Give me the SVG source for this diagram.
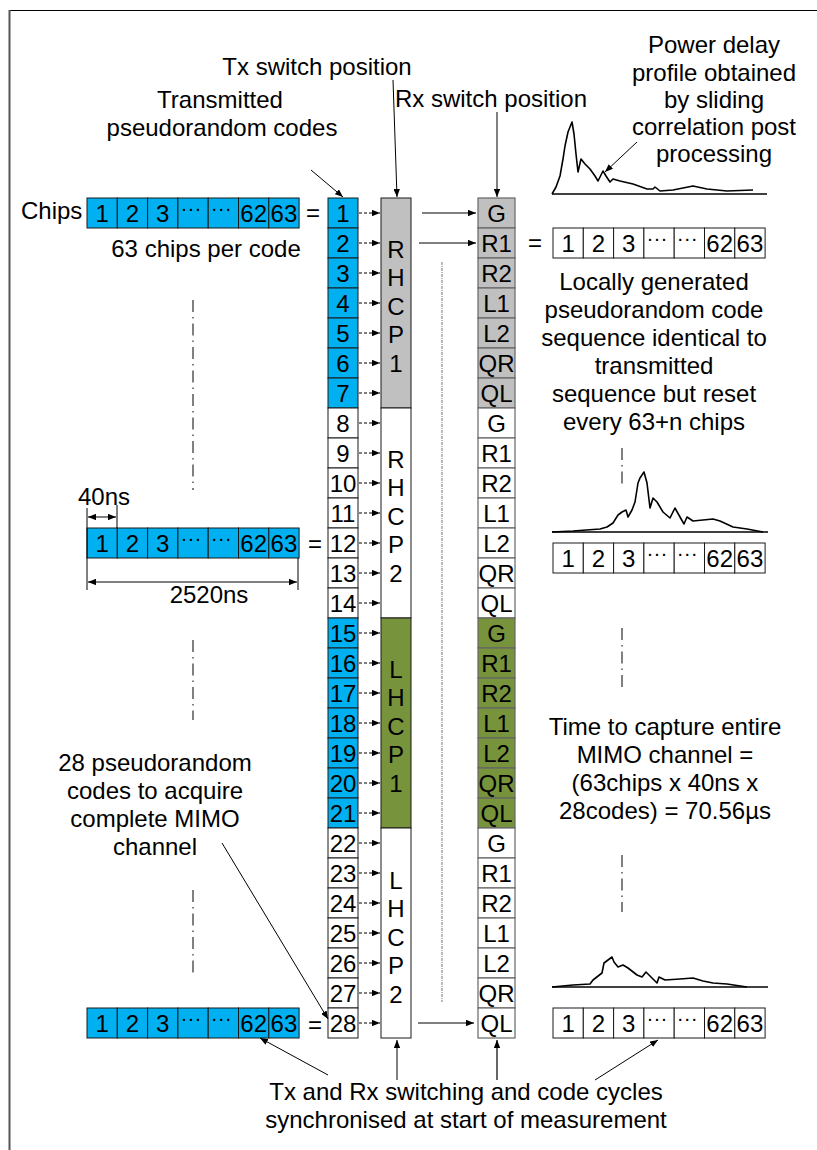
<svg xmlns="http://www.w3.org/2000/svg" width="817" height="1150" viewBox="0 0 817 1150">
<style>
text{font-family:"Liberation Sans",Arial,Helvetica,sans-serif;font-size:24px;fill:#000}
.m{text-anchor:middle}
.dots{font-size:21px}
.cell{stroke:#1a1a1a;stroke-width:1}
.rxc{stroke:#666;stroke-width:1.2}
.blue{fill:#00B0F0}
.gray{fill:#C0C0C0}
.green{fill:#77933C}
.white{fill:#fff}
.dash{stroke:#000;stroke-width:1;stroke-dasharray:3 2;fill:none}
.ar{stroke:#000;stroke-width:1;fill:none}
.dd{stroke:#000;stroke-width:1;stroke-dasharray:12 5 1.5 5;fill:none}
.dot{stroke:#777;stroke-width:1;stroke-dasharray:3 1 1 1;fill:none}
.pdp{stroke:#000;stroke-width:1.6;fill:none;stroke-linejoin:round}
.base{stroke:#000;stroke-width:1.6;fill:none}
</style>
<defs>
<marker id="ah" viewBox="0 0 10 8" refX="10" refY="4" markerWidth="8" markerHeight="6.4" markerUnits="userSpaceOnUse" orient="auto-start-reverse"><path d="M0,0 L10,4 L0,8 z" fill="#000"/></marker>
<g id="row">
<rect x="0" y="0" width="30.3" height="30" class="cell"/>
<rect x="30.3" y="0" width="30.3" height="30" class="cell"/>
<rect x="60.6" y="0" width="30.3" height="30" class="cell"/>
<rect x="90.9" y="0" width="30.3" height="30" class="cell"/>
<rect x="121.2" y="0" width="30.3" height="30" class="cell"/>
<rect x="151.5" y="0" width="30.3" height="30" class="cell"/>
<rect x="181.8" y="0" width="30.3" height="30" class="cell"/>
<text class="m" x="15.15" y="24">1</text>
<text class="m" x="45.45" y="24">2</text>
<text class="m" x="75.75" y="24">3</text>
<text class="m dots" x="104" y="17">···</text>
<text class="m dots" x="134.3" y="17">···</text>
<text class="m" x="166.65" y="24">62</text>
<text class="m" x="196.95" y="24">63</text>
</g>
</defs>
<rect x="0" y="0" width="817" height="1150" fill="#fff"/>
<g id="frame">
<line x1="9" y1="10.5" x2="817" y2="10.5" stroke="#000" stroke-width="1"/>
<line x1="9.5" y1="10" x2="9.5" y2="1150" stroke="#555" stroke-width="2"/>
</g>

<g id="labels">
<text class="m" x="317" y="75">Tx switch position</text>
<text class="m" x="491" y="107">Rx switch position</text>
<text class="m" x="220" y="108">Transmitted</text>
<text class="m" x="222" y="136">pseudorandom codes</text>
<text x="21" y="219">Chips</text>
<text class="m" x="206" y="257">63 chips per code</text>
<text class="m" x="714"><tspan x="714" y="53">Power delay</tspan><tspan x="714" y="81">profile obtained</tspan><tspan x="714" y="108">by sliding</tspan><tspan x="714" y="135">correlation post</tspan><tspan x="714" y="162">processing</tspan></text>
<text class="m" x="654"><tspan x="654" y="290">Locally generated</tspan><tspan x="654" y="318">pseudorandom code</tspan><tspan x="654" y="346">sequence identical to</tspan><tspan x="654" y="374">transmitted</tspan><tspan x="654" y="402">sequence but reset</tspan><tspan x="654" y="430">every 63+n chips</tspan></text>
<text class="m" x="665"><tspan x="665" y="735">Time to capture entire</tspan><tspan x="665" y="763">MIMO channel =</tspan><tspan x="665" y="791">(63chips x 40ns x</tspan><tspan x="665" y="819">28codes) = 70.56µs</tspan></text>
<text class="m" x="155"><tspan x="155" y="771">28 pseudorandom</tspan><tspan x="155" y="799">codes to acquire</tspan><tspan x="155" y="827">complete MIMO</tspan><tspan x="155" y="855">channel</tspan></text>
<text class="m" x="466"><tspan x="466" y="1100">Tx and Rx switching and code cycles</tspan><tspan x="466" y="1128">synchronised at start of measurement</tspan></text>
<text x="78" y="505">40ns</text>
<text class="m" x="209" y="603">2520ns</text>
<text class="m" x="313" y="221">=</text>
<text class="m" x="315" y="552">=</text>
<text class="m" x="315" y="1033">=</text>
<text class="m" x="535" y="251">=</text>
</g>

<g id="code-row-1"><use href="#row" x="87" y="198" fill="#00B0F0"/></g>
<g id="code-row-2"><use href="#row" x="87" y="528" fill="#00B0F0"/></g>
<g id="code-row-3"><use href="#row" x="87" y="1008" fill="#00B0F0"/></g>
<g id="local-row-1"><use href="#row" x="553" y="228" fill="#fff"/></g>
<g id="local-row-2"><use href="#row" x="553" y="543" fill="#fff"/></g>
<g id="local-row-3"><use href="#row" x="553" y="1008" fill="#fff"/></g>

<g id="tx-codes">
<rect class="cell blue" x="328" y="198" width="30" height="30"/><text class="m" x="343" y="222">1</text>
<rect class="cell blue" x="328" y="228" width="30" height="30"/><text class="m" x="343" y="252">2</text>
<rect class="cell blue" x="328" y="258" width="30" height="30"/><text class="m" x="343" y="282">3</text>
<rect class="cell blue" x="328" y="288" width="30" height="30"/><text class="m" x="343" y="312">4</text>
<rect class="cell blue" x="328" y="318" width="30" height="30"/><text class="m" x="343" y="342">5</text>
<rect class="cell blue" x="328" y="348" width="30" height="30"/><text class="m" x="343" y="372">6</text>
<rect class="cell blue" x="328" y="378" width="30" height="30"/><text class="m" x="343" y="402">7</text>
<rect class="cell white" x="328" y="408" width="30" height="30"/><text class="m" x="343" y="432">8</text>
<rect class="cell white" x="328" y="438" width="30" height="30"/><text class="m" x="343" y="462">9</text>
<rect class="cell white" x="328" y="468" width="30" height="30"/><text class="m" x="343" y="492">10</text>
<rect class="cell white" x="328" y="498" width="30" height="30"/><text class="m" x="343" y="522">11</text>
<rect class="cell white" x="328" y="528" width="30" height="30"/><text class="m" x="343" y="552">12</text>
<rect class="cell white" x="328" y="558" width="30" height="30"/><text class="m" x="343" y="582">13</text>
<rect class="cell white" x="328" y="588" width="30" height="30"/><text class="m" x="343" y="612">14</text>
<rect class="cell blue" x="328" y="618" width="30" height="30"/><text class="m" x="343" y="642">15</text>
<rect class="cell blue" x="328" y="648" width="30" height="30"/><text class="m" x="343" y="672">16</text>
<rect class="cell blue" x="328" y="678" width="30" height="30"/><text class="m" x="343" y="702">17</text>
<rect class="cell blue" x="328" y="708" width="30" height="30"/><text class="m" x="343" y="732">18</text>
<rect class="cell blue" x="328" y="738" width="30" height="30"/><text class="m" x="343" y="762">19</text>
<rect class="cell blue" x="328" y="768" width="30" height="30"/><text class="m" x="343" y="792">20</text>
<rect class="cell blue" x="328" y="798" width="30" height="30"/><text class="m" x="343" y="822">21</text>
<rect class="cell white" x="328" y="828" width="30" height="30"/><text class="m" x="343" y="852">22</text>
<rect class="cell white" x="328" y="858" width="30" height="30"/><text class="m" x="343" y="882">23</text>
<rect class="cell white" x="328" y="888" width="30" height="30"/><text class="m" x="343" y="912">24</text>
<rect class="cell white" x="328" y="918" width="30" height="30"/><text class="m" x="343" y="942">25</text>
<rect class="cell white" x="328" y="948" width="30" height="30"/><text class="m" x="343" y="972">26</text>
<rect class="cell white" x="328" y="978" width="30" height="30"/><text class="m" x="343" y="1002">27</text>
<rect class="cell white" x="328" y="1008" width="30" height="30"/><text class="m" x="343" y="1032">28</text>
</g>

<g id="tx-switch">
<rect class="cell gray" x="381" y="198" width="30" height="210"/>
<rect class="cell white" x="381" y="408" width="30" height="210"/>
<rect class="cell green" x="381" y="618" width="30" height="210"/>
<rect class="cell white" x="381" y="828" width="30" height="210"/>
<text class="m" x="396"><tspan x="396" y="258">R</tspan><tspan x="396" y="286">H</tspan><tspan x="396" y="315">C</tspan><tspan x="396" y="343">P</tspan><tspan x="396" y="372">1</tspan></text>
<text class="m" x="396"><tspan x="396" y="468">R</tspan><tspan x="396" y="496">H</tspan><tspan x="396" y="525">C</tspan><tspan x="396" y="553">P</tspan><tspan x="396" y="582">2</tspan></text>
<text class="m" x="396"><tspan x="396" y="678">L</tspan><tspan x="396" y="706">H</tspan><tspan x="396" y="735">C</tspan><tspan x="396" y="763">P</tspan><tspan x="396" y="792">1</tspan></text>
<text class="m" x="396"><tspan x="396" y="889">L</tspan><tspan x="396" y="917">H</tspan><tspan x="396" y="946">C</tspan><tspan x="396" y="974">P</tspan><tspan x="396" y="1003">2</tspan></text>
</g>

<g id="rx-switch">
<rect class="rxc gray" x="478" y="198" width="37" height="30"/><text class="m" x="496.5" y="222">G</text>
<rect class="rxc gray" x="478" y="228" width="37" height="30"/><text class="m" x="496.5" y="252">R1</text>
<rect class="rxc gray" x="478" y="258" width="37" height="30"/><text class="m" x="496.5" y="282">R2</text>
<rect class="rxc gray" x="478" y="288" width="37" height="30"/><text class="m" x="496.5" y="312">L1</text>
<rect class="rxc gray" x="478" y="318" width="37" height="30"/><text class="m" x="496.5" y="342">L2</text>
<rect class="rxc gray" x="478" y="348" width="37" height="30"/><text class="m" x="496.5" y="372">QR</text>
<rect class="rxc gray" x="478" y="378" width="37" height="30"/><text class="m" x="496.5" y="402">QL</text>
<rect class="rxc white" x="478" y="408" width="37" height="30"/><text class="m" x="496.5" y="432">G</text>
<rect class="rxc white" x="478" y="438" width="37" height="30"/><text class="m" x="496.5" y="462">R1</text>
<rect class="rxc white" x="478" y="468" width="37" height="30"/><text class="m" x="496.5" y="492">R2</text>
<rect class="rxc white" x="478" y="498" width="37" height="30"/><text class="m" x="496.5" y="522">L1</text>
<rect class="rxc white" x="478" y="528" width="37" height="30"/><text class="m" x="496.5" y="552">L2</text>
<rect class="rxc white" x="478" y="558" width="37" height="30"/><text class="m" x="496.5" y="582">QR</text>
<rect class="rxc white" x="478" y="588" width="37" height="30"/><text class="m" x="496.5" y="612">QL</text>
<rect class="rxc green" x="478" y="618" width="37" height="30"/><text class="m" x="496.5" y="642">G</text>
<rect class="rxc green" x="478" y="648" width="37" height="30"/><text class="m" x="496.5" y="672">R1</text>
<rect class="rxc green" x="478" y="678" width="37" height="30"/><text class="m" x="496.5" y="702">R2</text>
<rect class="rxc green" x="478" y="708" width="37" height="30"/><text class="m" x="496.5" y="732">L1</text>
<rect class="rxc green" x="478" y="738" width="37" height="30"/><text class="m" x="496.5" y="762">L2</text>
<rect class="rxc green" x="478" y="768" width="37" height="30"/><text class="m" x="496.5" y="792">QR</text>
<rect class="rxc green" x="478" y="798" width="37" height="30"/><text class="m" x="496.5" y="822">QL</text>
<rect class="rxc white" x="478" y="828" width="37" height="30"/><text class="m" x="496.5" y="852">G</text>
<rect class="rxc white" x="478" y="858" width="37" height="30"/><text class="m" x="496.5" y="882">R1</text>
<rect class="rxc white" x="478" y="888" width="37" height="30"/><text class="m" x="496.5" y="912">R2</text>
<rect class="rxc white" x="478" y="918" width="37" height="30"/><text class="m" x="496.5" y="942">L1</text>
<rect class="rxc white" x="478" y="948" width="37" height="30"/><text class="m" x="496.5" y="972">L2</text>
<rect class="rxc white" x="478" y="978" width="37" height="30"/><text class="m" x="496.5" y="1002">QR</text>
<rect class="rxc white" x="478" y="1008" width="37" height="30"/><text class="m" x="496.5" y="1032">QL</text>
</g>

<g id="pdp-1">
<path class="pdp" d="M552,194 L556,187 L560,176 L563,159 L565,146 L568,132 L572,122 L574,134 L576,154 L578,172 L581,159 L585,164 L590,169 L595,176 L598,181 L603,171 L606,176 L610,182 L613,179 L620,181 L633,184 L647,189 L653,189 L655,187 L660,191 L673,190 L693,186 L707,189 L727,191 L753,190"/>
<path class="base" d="M552,194 H767"/>
</g>
<g id="pdp-2">
<path class="pdp" d="M552,532 L573,531 L600,529 L607,527 L613,523 L618,515 L622,512 L626,510 L628,517 L632,510 L635,502 L638,483 L640,478 L644,472 L647,483 L650,508 L653,498 L657,502 L663,512 L670,518 L675,508 L680,517 L684,524 L687,517 L693,521 L713,519 L720,521 L733,527 L747,529 L763,532"/>
<path class="base" d="M552,532 H768"/>
</g>
<g id="pdp-3">
<path class="pdp" d="M552,987 L573,985 L590,984 L593,980 L602,973 L604,963 L608,960 L612,957 L614,962 L618,967 L623,965 L628,968 L637,975 L642,977 L646,972 L652,978 L657,983 L659,977 L665,980 L680,979 L693,978 L703,981 L713,983 L727,984 L747,987"/>
<path class="base" d="M552,987 H768"/>
</g>

<g id="ellipsis-marks">
<path class="dd" d="M193,300 V490 M193,640 V720 M193,890 V975 M622,448 V488 M622,628 V688 M622,855 V912"/>
<path class="dot" d="M442,262 V1002"/>
</g>

<g id="connectors">
<path class="ar" d="M393,80 L397,197" marker-end="url(#ah)"/>
<path class="ar" d="M497,112 L497,197" marker-end="url(#ah)"/>
<path class="ar" d="M311,170 L343,197" marker-end="url(#ah)"/>
<path class="ar" d="M637,142 L605,172" marker-end="url(#ah)"/>
<path class="ar" d="M422,213 L476,213" marker-end="url(#ah)"/>
<path class="ar" d="M419,243 L476,243" marker-end="url(#ah)"/>
<path class="ar" d="M418,1023 L474,1023" marker-end="url(#ah)"/>
<path class="ar" d="M222,843 L328,1019" marker-end="url(#ah)"/>
<path class="ar" d="M328,1075 L260,1038" marker-end="url(#ah)"/>
<path class="ar" d="M397,1080 L397,1040" marker-end="url(#ah)"/>
<path d="M497,1080 L497,1040" stroke="#666" stroke-width="2" fill="none" marker-end="url(#ah)"/>
<path class="ar" d="M595,1080 L658,1040" marker-end="url(#ah)"/>
<path class="ar" d="M88,517 H116" marker-start="url(#ah)" marker-end="url(#ah)"/>
<path class="ar" d="M88,582 H297" marker-start="url(#ah)" marker-end="url(#ah)"/>
<path class="ar" d="M87,508 V590 M117,505 V528 M298,558 V590"/>
<g marker-end="url(#ah)">
<path class="dash" d="M359,213 H380"/><path class="dash" d="M359,243 H380"/><path class="dash" d="M359,273 H380"/><path class="dash" d="M359,303 H380"/>
<path class="dash" d="M359,333 H380"/><path class="dash" d="M359,363 H380"/><path class="dash" d="M359,393 H380"/><path class="dash" d="M359,423 H380"/>
<path class="dash" d="M359,453 H380"/><path class="dash" d="M359,483 H380"/><path class="dash" d="M359,513 H380"/><path class="dash" d="M359,543 H380"/>
<path class="dash" d="M359,573 H380"/><path class="dash" d="M359,603 H380"/><path class="dash" d="M359,633 H380"/><path class="dash" d="M359,663 H380"/>
<path class="dash" d="M359,693 H380"/><path class="dash" d="M359,723 H380"/><path class="dash" d="M359,753 H380"/><path class="dash" d="M359,783 H380"/>
<path class="dash" d="M359,813 H380"/><path class="dash" d="M359,843 H380"/><path class="dash" d="M359,873 H380"/><path class="dash" d="M359,903 H380"/>
<path class="dash" d="M359,933 H380"/><path class="dash" d="M359,963 H380"/><path class="dash" d="M359,993 H380"/><path class="dash" d="M359,1023 H380"/>
</g>
</g>
</svg>
